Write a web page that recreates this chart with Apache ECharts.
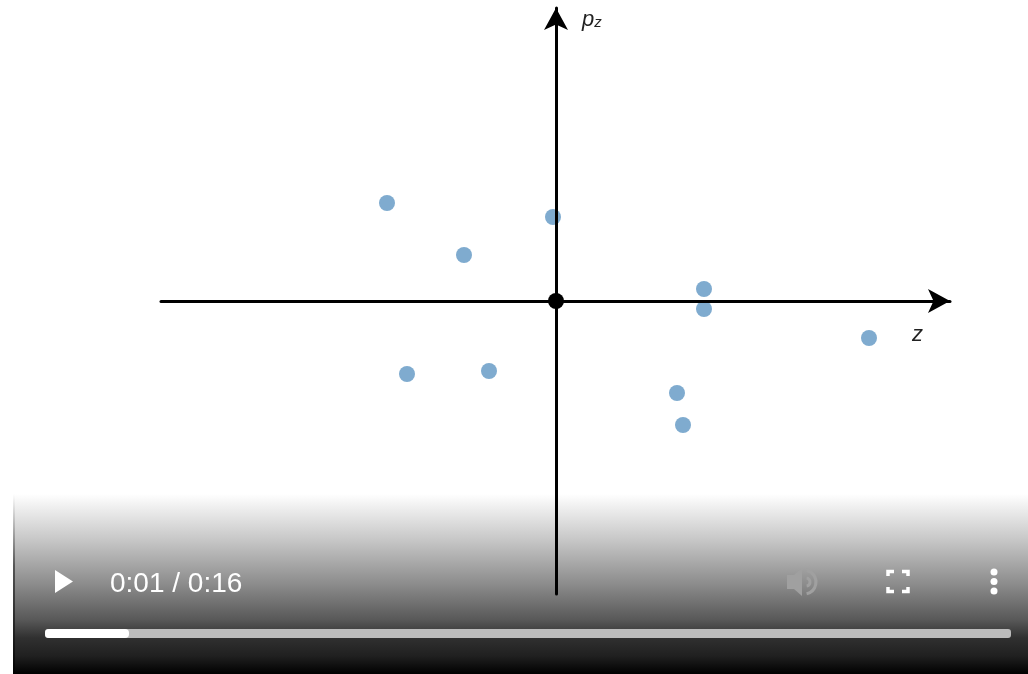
<!DOCTYPE html>
<html>
<head>
<meta charset="utf-8">
<style>
  html, body { margin: 0; padding: 0; background: #fff; }
  #chart { width: 1028px; height: 674px; }
</style>
<script src="https://cdn.jsdelivr.net/npm/echarts@6/dist/echarts.min.js"></script>
</head>
<body>
<div id="chart"></div>
<script>
// values, [z, pz]
const samplePoints = [
  [-1.69, 0.98], [-0.92, 0.46], [-0.03, 0.84], [1.48, 0.12], [1.48, -0.08],
  [3.13, -0.37], [-1.49, -0.73], [-0.67, -0.70], [1.21, -0.92], [1.27, -1.24]
]
const originPoint = [[0, 0]]
const timeLabel = '0:01 / 0:16'

const chart = echarts.init(document.getElementById('chart'), null, { renderer: 'canvas' })

// video player controls over the bottom of the frame
const white = '#ffffff'
const playerControls = [
  {
    type: 'rect', z: 1,
    shape: { x: 14, y: 494, width: 1014, height: 180 },
    style: {
      fill: new echarts.graphic.LinearGradient(0, 0, 0, 1, [
        { offset: 0, color: '#ffffff' },
        { offset: 0.25, color: '#c8c8c8' },
        { offset: 0.5, color: '#8c8c8c' },
        { offset: 0.7, color: '#585858' },
        { offset: 0.8, color: '#303030' },
        { offset: 0.9, color: '#202020' },
        { offset: 1, color: '#000000' }
      ])
    }
  },
  {
    type: 'rect', z: 2,
    shape: { x: 13, y: 494, width: 2, height: 180 },
    style: {
      fill: new echarts.graphic.LinearGradient(0, 0, 0, 1, [
        { offset: 0, color: '#ffffff' },
        { offset: 0.4, color: '#555555' },
        { offset: 1, color: '#000000' }
      ])
    }
  },
  { type: 'polygon', z: 3, shape: { points: [[55, 570], [73, 581.5], [55, 593]] }, style: { fill: white } },
  {
    type: 'text', z: 3, x: 110, y: 584,
    style: { text: timeLabel, fill: white, font: '28px "Liberation Sans"', verticalAlign: 'middle' }
  },
  // progress bar
  { type: 'rect', z: 3, shape: { x: 45, y: 629, width: 966, height: 9, r: 3 }, style: { fill: '#bcbcbc' } },
  { type: 'rect', z: 4, shape: { x: 45, y: 629, width: 84, height: 9, r: 4 }, style: { fill: white } },
  // mute icon
  {
    type: 'polygon', z: 3,
    shape: { points: [[787, 575], [794, 575], [802, 568], [802, 596], [794, 589], [787, 589]] },
    style: { fill: '#a0a0a0' }
  },
  {
    type: 'arc', z: 3,
    shape: { cx: 804, cy: 582, r: 12, startAngle: -1.35, endAngle: 1.35 },
    style: { stroke: '#a0a0a0', lineWidth: 3, fill: 'none' }
  },
  {
    type: 'arc', z: 3,
    shape: { cx: 806, cy: 582, r: 4, startAngle: -1.4, endAngle: 1.4 },
    style: { stroke: '#a0a0a0', lineWidth: 3, fill: 'none' }
  },
  // fullscreen corners
  { type: 'polyline', z: 3, shape: { points: [[888, 576], [888, 571.5], [894, 571.5]] }, style: { stroke: white, lineWidth: 3.5, fill: 'none' } },
  { type: 'polyline', z: 3, shape: { points: [[902, 571.5], [908, 571.5], [908, 576]] }, style: { stroke: white, lineWidth: 3.5, fill: 'none' } },
  { type: 'polyline', z: 3, shape: { points: [[888, 587], [888, 591.5], [894, 591.5]] }, style: { stroke: white, lineWidth: 3.5, fill: 'none' } },
  { type: 'polyline', z: 3, shape: { points: [[902, 591.5], [908, 591.5], [908, 587]] }, style: { stroke: white, lineWidth: 3.5, fill: 'none' } },
  // more menu
  { type: 'circle', z: 3, shape: { cx: 994, cy: 572, r: 3.5 }, style: { fill: white } },
  { type: 'circle', z: 3, shape: { cx: 994, cy: 581.5, r: 3.5 }, style: { fill: white } },
  { type: 'circle', z: 3, shape: { cx: 994, cy: 591, r: 3.5 }, style: { fill: white } }
]

const axisLine = {
  show: true,
  onZero: true,
  symbol: ['none', 'arrow'],
  symbolSize: [18, 22],
  lineStyle: { color: '#000000', width: 3 }
}

const option = {
  animation: false,
  backgroundColor: '#ffffff',
  grid: { left: 161, top: 8, width: 789, height: 586 },
  xAxis: {
    type: 'value',
    z: 10,
    min: -3.95,
    max: 3.94,
    name: 'z',
    nameLocation: 'end',
    nameGap: -38,
    nameTextStyle: {
      color: '#222222', fontFamily: 'Liberation Sans', fontStyle: 'italic', fontSize: 22,
      verticalAlign: 'top',
      padding: [23, 0, 0, 0]
    },
    axisLine: axisLine,
    axisTick: { show: false },
    axisLabel: { show: false },
    splitLine: { show: false }
  },
  yAxis: {
    type: 'value',
    z: 10,
    min: -2.93,
    max: 2.93,
    name: '{p|p}{s|z}',
    nameLocation: 'end',
    nameGap: -23,
    nameTextStyle: {
      align: 'left',
      padding: [0, 0, 0, 26],
      rich: {
        p: { color: '#222222', fontFamily: 'Liberation Sans', fontStyle: 'italic', fontSize: 22 },
        s: { color: '#222222', fontFamily: 'Liberation Sans', fontStyle: 'italic', fontSize: 15, padding: [6, 0, 0, 0] }
      }
    },
    axisLine: axisLine,
    axisTick: { show: false },
    axisLabel: { show: false },
    splitLine: { show: false }
  },
  series: [
    {
      name: 'samples',
      type: 'scatter',
      data: samplePoints,
      symbolSize: 16,
      z: 5,
      itemStyle: { color: '#7fabcf', opacity: 1 }
    },
    {
      name: 'origin',
      type: 'scatter',
      data: originPoint,
      symbolSize: 16,
      z: 11,
      itemStyle: { color: '#000000', opacity: 1 }
    }
  ],
  graphic: { elements: playerControls }
}

chart.setOption(option)
</script>
</body>
</html>
